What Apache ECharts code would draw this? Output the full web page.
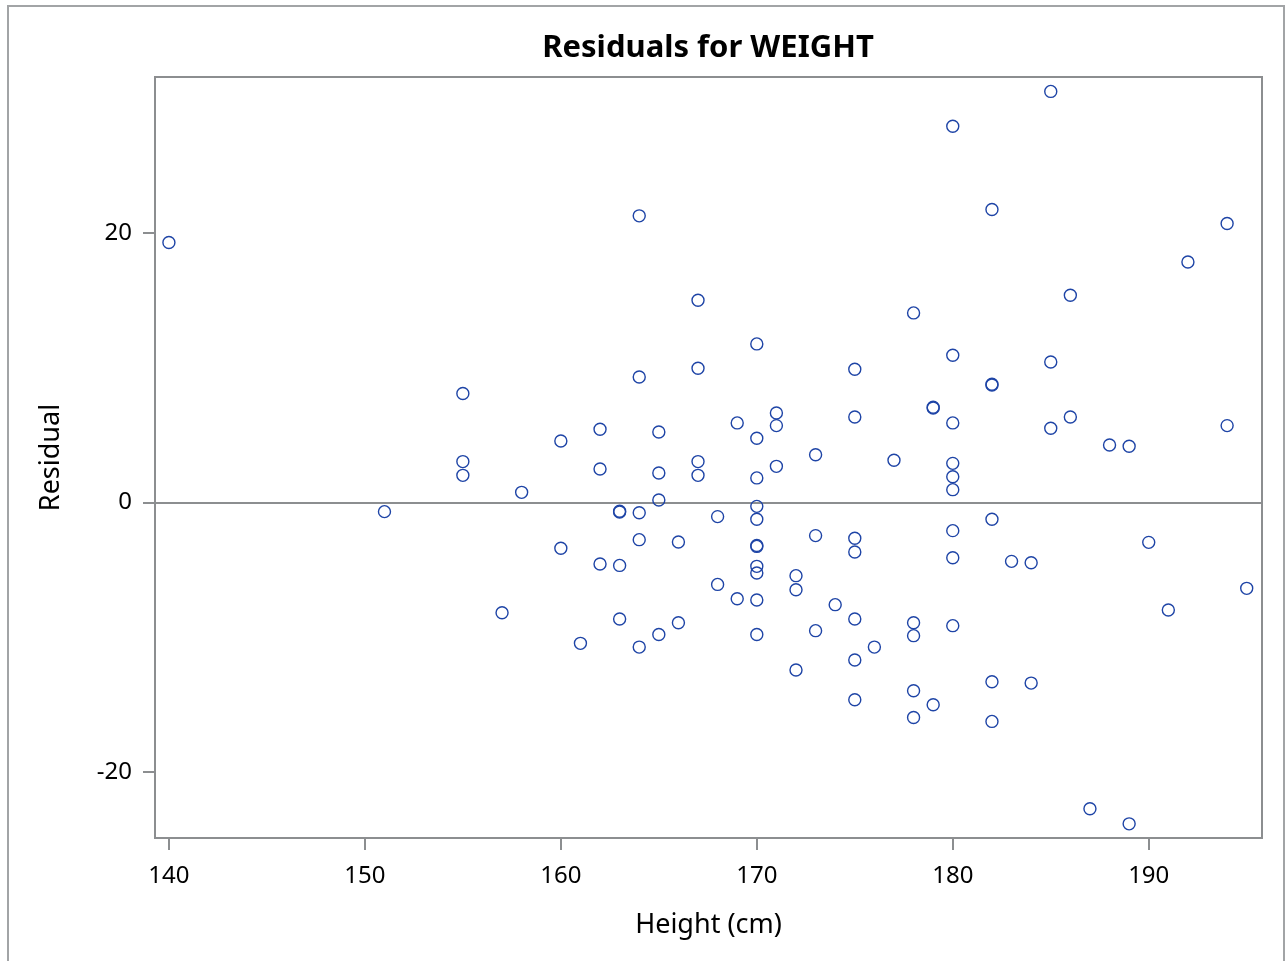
<!DOCTYPE html>
<html>
<head>
<meta charset="utf-8">
<script src="https://cdn.jsdelivr.net/npm/echarts@6/dist/echarts.min.js"></script>
<style>
html,body{margin:0;padding:0;background:#fff;}
#main{width:1285px;height:961px;}
</style>
</head>
<body>
<div id="main"></div>
<script>
// Data
const heights = [
  140,
  151,
  155, 155, 155,
  157,
  158,
  160, 160,
  161,
  162, 162, 162,
  163, 163, 163, 163,
  164, 164, 164, 164, 164,
  165, 165, 165, 165,
  166, 166,
  167, 167, 167, 167,
  168, 168,
  169, 169,
  170, 170, 170, 170, 170, 170, 170, 170, 170, 170, 170,
  171, 171, 171,
  172, 172, 172,
  173, 173, 173,
  174,
  175, 175, 175, 175, 175, 175, 175,
  176,
  177,
  178, 178, 178, 178, 178,
  179, 179, 179,
  180, 180, 180, 180, 180, 180, 180, 180, 180,
  182, 182, 182, 182, 182, 182,
  183,
  184, 184,
  185, 185, 185,
  186, 186,
  187,
  188,
  189, 189,
  190,
  191,
  192,
  194, 194,
  195
];
const residuals = [
  19.27,
  -0.69,
  8.07, 3.02, 2.00,
  -8.19,
  0.74,
  4.55, -3.41,
  -10.46,
  5.42, 2.47, -4.58,
  -0.66, -0.72, -4.68, -8.66,
  21.25, 9.30, -0.77, -2.77, -10.74,
  5.22, 2.18, 0.17, -9.80,
  -2.94, -8.93,
  14.99, 9.94, 3.02, 2.00,
  -1.06, -6.09,
  5.89, -7.15,
  11.75, 4.75, 1.81, -0.30, -1.26, -3.20, -3.27, -4.75, -5.24, -7.25, -9.80,
  6.63, 5.69, 2.67,
  -5.44, -6.48, -12.44,
  3.53, -2.47, -9.52,
  -7.59,
  9.87, 6.33, -2.67, -3.69, -8.66, -11.70, -14.64,
  -10.74,
  3.12,
  14.05, -8.93, -9.89, -13.98, -15.96,
  7.00, 7.05, -15.02,
  27.90, 10.91, 5.89, 2.89, 1.90, 0.94, -2.10, -4.11, -9.15,
  21.72, 8.70, 8.76, -1.26, -13.31, -16.25,
  -4.38,
  -4.48, -13.41,
  30.48, 10.41, 5.49,
  15.36, 6.33,
  -22.73,
  4.25,
  4.16, -23.85,
  -2.97,
  -7.99,
  17.83,
  20.68, 5.69,
  -6.38
];
const xTicks = [140, 150, 160, 170, 180, 190];
const yTicks = [-20, 0, 20];

const points = heights.map((h, i) => [h, residuals[i]]);

const chart = echarts.init(document.getElementById('main'));
const FONT = '"Noto Sans", "Open Sans", sans-serif';
const GRAY = '#8c8e90';

chart.setOption({
  animation: false,
  backgroundColor: '#fff',
  title: {
    text: 'Residuals for WEIGHT',
    left: 703,
    top: 28,
    textAlign: 'center',
    textStyle: { fontFamily: FONT, fontSize: 31, fontWeight: 'bold', color: '#000' }
  },
  graphic: [{
    type: 'rect',
    shape: { x: 8, y: 6, width: 1276, height: 1000 },
    style: { fill: 'none', stroke: '#a2a4a6', lineWidth: 2 },
    silent: true,
    z: 0
  }],
  grid: {
    left: 155, right: 23, top: 77, bottom: 123,
    show: true,
    borderColor: GRAY,
    borderWidth: 2,
    backgroundColor: 'transparent',
    containLabel: false
  },
  xAxis: {
    type: 'value',
    min: 139.29,
    max: 195.78,
    name: 'Height (cm)',
    nameLocation: 'middle',
    nameGap: 74,
    nameTextStyle: { fontFamily: FONT, fontSize: 27, color: '#000' },
    axisLine: { show: false, onZero: false },
    axisTick: { show: true, inside: false, length: 12, customValues: xTicks, lineStyle: { color: GRAY, width: 2 } },
    axisLabel: { customValues: xTicks, margin: 26, fontFamily: FONT, fontSize: 24, color: '#000' },
    splitLine: { show: false }
  },
  yAxis: {
    type: 'value',
    min: -24.9,
    max: 31.55,
    name: 'Residual',
    nameLocation: 'middle',
    nameGap: 90,
    nameRotate: 90,
    nameTextStyle: { fontFamily: FONT, fontSize: 27, color: '#000' },
    axisLine: { show: false, onZero: false },
    axisTick: { show: true, inside: false, length: 12, customValues: yTicks, lineStyle: { color: GRAY, width: 2 } },
    axisLabel: { customValues: yTicks, margin: 23, fontFamily: FONT, fontSize: 24, color: '#000' },
    splitLine: { show: false }
  },
  series: [{
    type: 'scatter',
    data: points,
    symbol: 'circle',
    symbolSize: 12,
    itemStyle: { color: 'rgba(0,0,0,0)', borderColor: '#1e44a6', borderWidth: 1.4, opacity: 1 },
    emphasis: { disabled: true },
    z: 3,
    markLine: {
      silent: true,
      symbol: ['none', 'none'],
      label: { show: false },
      lineStyle: { color: GRAY, width: 2, type: 'solid' },
      data: [{ yAxis: 0 }],
      z: 1
    }
  }]
});
</script>
</body>
</html>
